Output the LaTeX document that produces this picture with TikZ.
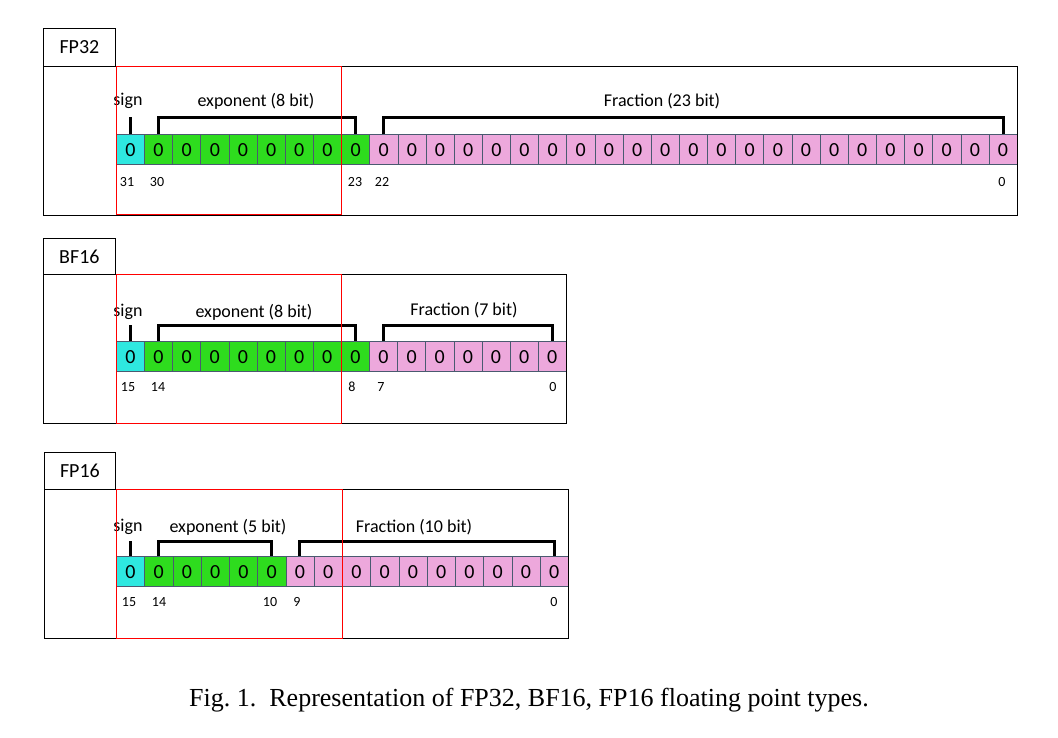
\documentclass[tikz,border=0pt]{standalone}
\usepackage{fontspec}
\setmainfont{Liberation Serif}
\newfontfamily\carl{Carlito}
\definecolor{cy}{HTML}{2EE8E0}
\definecolor{gr}{HTML}{2EDC1E}
\definecolor{pk}{HTML}{EDA8DC}
\definecolor{cb}{HTML}{4A5A70}
\tikzset{
 cell/.style={draw=cb,line width=0.6pt,minimum height=30pt,inner sep=0,font=\carl\fontsize{20}{20}\selectfont,anchor=south west},
 num/.style={font=\carl\fontsize{14}{14}\selectfont,inner sep=0},
 lab/.style={font=\carl\fontsize{18}{18}\selectfont,inner sep=0},
 brk/.style={line width=3pt},
 frame/.style={draw=black,line width=0.8pt},
 redb/.style={draw=red,line width=0.8pt},
}
% #1 prefix, #2 ytop of row, #3 cell width, #4 total bits, #5 exponent bits
\newcommand{\bitrow}[5]{%
 \pgfmathtruncatemacro{\nb}{#4-1}
 \foreach \i in {0,...,\nb}{
   \pgfmathsetmacro{\xx}{116+\i*#3}
   \ifnum\i=0 \def\fc{cy}\else\ifnum\i>#5 \def\fc{pk}\else\def\fc{gr}\fi\fi
   \node[cell,fill=\fc,minimum width=#3 pt] (#1c\i) at (\xx,-#2-30) {0};
 }
}
\begin{document}
\begin{tikzpicture}[x=1pt,y=1pt]
\useasboundingbox (0,0) rectangle (1058,-737);
% ---------- FP32
\node[frame,minimum width=72pt,minimum height=38pt,anchor=north west,inner sep=0,font=\carl\fontsize{20}{20}\selectfont] (t1) at (43,-28) {FP32};
\bitrow{a}{135}{28.15}{32}{8}
\draw[frame] (43,-66) rectangle (1017,-215);
\node[num] (a31) at (127,-182) {31};
\node[num] (a30) at (157,-182) {30};
\node[num] (a23) at (355,-182) {23};
\node[num] (a22) at (382,-182) {22};
\node[num] (a0) at (1002,-182) {0};
\draw[brk] (ac0.north) ++(0,0) -- ++(0,17);
\draw[brk] (ac1.north) -- ++(0,17) -| (ac8.north);
\draw[brk] (ac9.north) -- ++(0,17) -| (ac31.north);
\node[lab] (as) at (128,-101) {sign};
\node[lab] (ae) at (256,-101) {exponent (8 bit)};
\node[lab] (af) at (662,-101) {Fraction (23 bit)};
\draw[redb] (116,-66) rectangle (341,-214);
% ---------- BF16
\node[frame,minimum width=72pt,minimum height=36pt,anchor=north west,inner sep=0,font=\carl\fontsize{20}{20}\selectfont] (t2) at (43,-238) {BF16};
\bitrow{b}{342}{28.125}{16}{8}
\draw[frame] (43,-274) rectangle (566,-423);
\node[num] (b15) at (128,-387) {15};
\node[num] (b14) at (158,-387) {14};
\node[num] (b8) at (352,-387) {8};
\node[num] (b7) at (381,-387) {7};
\node[num] (b0) at (553,-387) {0};
\draw[brk] (bc0.north) -- ++(0,16);
\draw[brk] (bc1.north) -- ++(0,16) -| (bc8.north);
\draw[brk] (bc9.north) -- ++(0,16) -| (bc15.north);
\node[lab] (bs) at (128,-312) {sign};
\node[lab] (be) at (254,-312) {exponent (8 bit)};
\node[lab] (bf) at (464,-310) {Fraction (7 bit)};
\draw[redb] (116,-274) rectangle (341,-423);
% ---------- FP16
\node[frame,minimum width=71pt,minimum height=37pt,anchor=north west,inner sep=0,font=\carl\fontsize{20}{20}\selectfont] (t3) at (44,-452) {FP16};
\bitrow{c}{557}{28.25}{16}{5}
\draw[frame] (44,-489) rectangle (568,-638);
\node[num] (c15) at (129,-602) {15};
\node[num] (c14) at (159,-602) {14};
\node[num] (c10) at (270,-602) {10};
\node[num] (c9) at (297,-602) {9};
\node[num] (c0) at (554,-602) {0};
\draw[brk] (cc0.north) -- ++(0,15);
\draw[brk] (cc1.north) -- ++(0,15) -| (cc5.north);
\draw[brk] (cc6.north) -- ++(0,15) -| (cc15.north);
\node[lab] (cs) at (128,-527) {sign};
\node[lab] (ce) at (228,-527) {exponent (5 bit)};
\node[lab] (cf) at (414,-527) {Fraction (10 bit)};
\draw[redb] (116,-489) rectangle (342,-638);
% caption
\node[font=\fontsize{26}{26}\selectfont,inner sep=0] (cap) at (529,-700) {Fig.~1.\ \ Representation of FP32, BF16, FP16 floating point types.};
\end{tikzpicture}
\end{document}
